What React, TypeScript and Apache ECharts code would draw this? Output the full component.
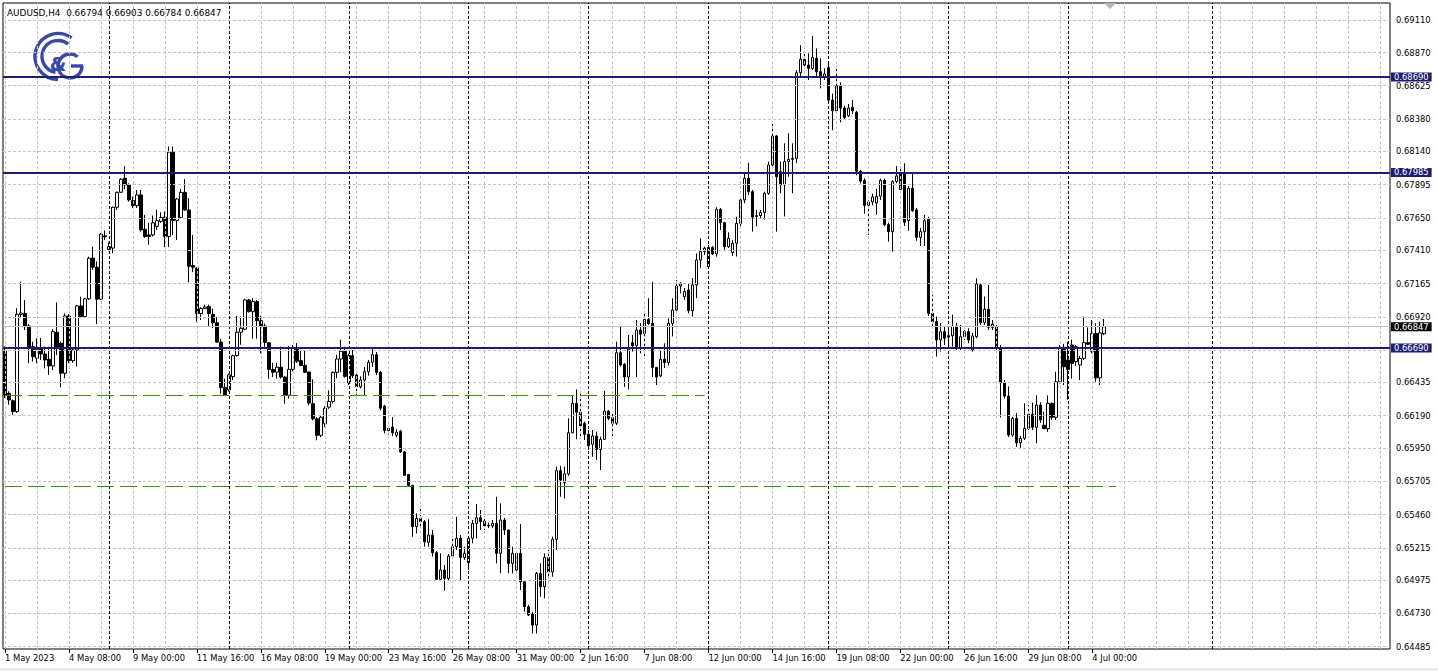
import React, { useEffect, useRef } from "react";
import * as echarts from "echarts";

const symbolName = "AUDUSD";
const timeframe = "H4";

// x-axis tick labels, one every 16 bars starting at the first visible bar
const xLabels = [
  "1 May 2023", "4 May 08:00", "9 May 00:00", "11 May 16:00", "16 May 08:00", "19 May 00:00",
  "23 May 16:00", "26 May 08:00", "31 May 00:00", "2 Jun 16:00", "7 Jun 08:00", "12 Jun 00:00",
  "14 Jun 16:00", "19 Jun 08:00", "22 Jun 00:00", "26 Jun 16:00", "29 Jun 08:00", "4 Jul 00:00",
];

// price scale tick labels
const yTickLabels = [
  "0.69110", "0.68870", "0.68625", "0.68380", "0.68140", "0.67895", "0.67650", "0.67410",
  "0.67165", "0.66920", "0.66675", "0.66435", "0.66190", "0.65950", "0.65705", "0.65460",
  "0.65215", "0.64975", "0.64730", "0.64485",
];
const hiddenTickLabel = "0.66675";

// horizontal levels
const navyLevels = [0.6869, 0.67985, 0.6669];
const currentPrice = 0.66847;
const greenLevels = [0.6634, 0.6567];
const greenEndBar = [175, 278];

// weekly separators (bar slots) and slot count of the visible window
const weekSeparators = [26, 56, 86, 116, 146, 176, 206, 236, 266, 302];
const totalSlots = 347;

// H4 candles, 1 May 2023 16:00 .. 4 Jul 2023 12:00
const opens = [
  0.66667,0.66355,0.66300,0.66220,0.66938,0.66945,0.66852,0.66699,0.66613,0.66680,
  0.66645,0.66606,0.66557,0.66806,0.66724,0.66503,0.66926,0.66596,0.66675,0.67000,
  0.66921,0.67052,0.67352,0.67286,0.67050,0.67517,0.67417,0.67427,0.67728,0.67839,
  0.67942,0.67893,0.67777,0.67740,0.67819,0.67566,0.67524,0.67524,0.67587,0.67624,
  0.67656,0.67512,0.68135,0.67631,0.67653,0.67838,0.67708,0.67298,0.67280,0.66943,
  0.66980,0.66997,0.66937,0.66876,0.66733,0.66397,0.66380,0.66478,0.66633,0.66806,
  0.66828,0.67044,0.66958,0.67032,0.66891,0.66852,0.66728,0.66531,0.66511,0.66548,
  0.66475,0.66340,0.66532,0.66690,0.66596,0.66561,0.66512,0.66278,0.66167,0.66045,
  0.66130,0.66253,0.66295,0.66510,0.66608,0.66665,0.66431,0.66633,0.66490,0.66404,
  0.66453,0.66514,0.66584,0.66640,0.66510,0.66260,0.66080,0.66106,0.66045,0.66075,
  0.65922,0.65755,0.65675,0.65371,0.65432,0.65408,0.65255,0.65309,0.65179,0.64982,
  0.65051,0.64989,0.65154,0.65223,0.65285,0.65144,0.65104,0.65285,0.65395,0.65437,
  0.65412,0.65381,0.65376,0.65395,0.65174,0.65420,0.65346,0.65100,0.65051,0.65174,
  0.64964,0.64780,0.64726,0.64645,0.65026,0.64928,0.65144,0.65037,0.65277,0.65784,
  0.65695,0.65760,0.66064,0.66281,0.66215,0.66133,0.66052,0.65978,0.66040,0.65941,
  0.66015,0.66224,0.66175,0.66134,0.66655,0.66569,0.66475,0.66729,0.66707,0.66822,
  0.66797,0.66900,0.66871,0.66546,0.66483,0.66606,0.66582,0.66871,0.66970,0.67147,
  0.67069,0.67117,0.66965,0.67155,0.67339,0.67401,0.67290,0.67432,0.67383,0.67713,
  0.67614,0.67437,0.67393,0.67462,0.67609,0.67782,0.67942,0.67843,0.67667,0.67667,
  0.67690,0.67831,0.68040,0.68254,0.67991,0.67893,0.68065,0.68089,0.68089,0.68721,
  0.68820,0.68778,0.68753,0.68827,0.68729,0.68692,0.68760,0.68519,0.68440,0.68625,
  0.68460,0.68403,0.68465,0.68428,0.67995,0.67926,0.67742,0.67767,0.67760,0.67809,
  0.67927,0.67600,0.67548,0.67917,0.67978,0.67978,0.67629,0.67868,0.67708,0.67506,
  0.67548,0.67640,0.66945,0.66884,0.66749,0.66810,0.66770,0.66780,0.66848,0.66687,
  0.66773,0.66810,0.66675,0.66773,0.67155,0.66876,0.66975,0.66842,0.66842,0.66687,
  0.66433,0.66335,0.66047,0.66170,0.65990,0.66023,0.66096,0.66201,0.66104,0.66268,
  0.66119,0.66094,0.66281,0.66178,0.66440,0.66694,0.66601,0.66712,0.66589,0.66564,
  0.66613,0.66729,0.66665,0.66796,0.66469,0.66794,
];
const highs = [
  0.66700,0.66370,0.66310,0.66983,0.67179,0.67044,0.66866,0.66736,0.66761,0.66763,
  0.66699,0.66699,0.66828,0.67025,0.66736,0.66945,0.66940,0.66690,0.67007,0.67069,
  0.67059,0.67364,0.67437,0.67329,0.67537,0.67557,0.67468,0.67733,0.67843,0.67942,
  0.68033,0.67905,0.67807,0.67856,0.67856,0.67672,0.67613,0.67667,0.67710,0.67690,
  0.67697,0.68177,0.68177,0.67796,0.67863,0.67937,0.67796,0.67524,0.67284,0.66992,
  0.67009,0.67009,0.66980,0.66917,0.66758,0.66463,0.66500,0.66640,0.66926,0.66921,
  0.67052,0.67052,0.67057,0.67044,0.66928,0.66870,0.66733,0.66580,0.66580,0.66699,
  0.66480,0.66704,0.66712,0.66726,0.66675,0.66670,0.66514,0.66458,0.66179,0.66192,
  0.66260,0.66376,0.66517,0.66640,0.66751,0.66699,0.66648,0.66675,0.66517,0.66480,
  0.66549,0.66601,0.66690,0.66660,0.66520,0.66270,0.66110,0.66180,0.66090,0.66085,
  0.65930,0.65760,0.65680,0.65469,0.65506,0.65420,0.65425,0.65346,0.65190,0.65174,
  0.65088,0.65169,0.65297,0.65444,0.65309,0.65223,0.65297,0.65420,0.65538,0.65494,
  0.65435,0.65400,0.65420,0.65592,0.65543,0.65435,0.65350,0.65223,0.65190,0.65390,
  0.64970,0.64793,0.64743,0.65037,0.65100,0.65174,0.65199,0.65297,0.65814,0.65819,
  0.65814,0.66170,0.66343,0.66384,0.66355,0.66146,0.66084,0.66084,0.66072,0.66035,
  0.66372,0.66231,0.66209,0.66736,0.66848,0.66579,0.66786,0.66786,0.66896,0.66872,
  0.66945,0.67057,0.67179,0.66550,0.66672,0.66724,0.66908,0.67057,0.67191,0.67176,
  0.67132,0.67169,0.67206,0.67388,0.67499,0.67437,0.67450,0.67442,0.67728,0.67723,
  0.67621,0.67543,0.67487,0.67658,0.67794,0.67979,0.68057,0.67856,0.67708,0.67708,
  0.67843,0.68065,0.68347,0.68262,0.68065,0.68200,0.68274,0.68200,0.68741,0.68925,
  0.68859,0.68864,0.68992,0.68901,0.68827,0.68753,0.68797,0.68567,0.68749,0.68650,
  0.68477,0.68490,0.68519,0.68440,0.68001,0.67941,0.67779,0.67829,0.67865,0.67939,
  0.67939,0.67614,0.67927,0.68033,0.68016,0.68053,0.67885,0.67978,0.67723,0.67575,
  0.67672,0.67658,0.67082,0.66921,0.66872,0.66852,0.66830,0.66935,0.66875,0.66860,
  0.66822,0.66835,0.66800,0.67204,0.67167,0.67069,0.67155,0.66896,0.66860,0.66712,
  0.66453,0.66406,0.66182,0.66209,0.66040,0.66281,0.66268,0.66287,0.66340,0.66290,
  0.66219,0.66340,0.66287,0.66514,0.66712,0.66720,0.66736,0.66751,0.66712,0.66631,
  0.66921,0.66840,0.66896,0.66872,0.66884,0.66903,
];
const lows = [
  0.66320,0.66270,0.66195,0.66210,0.66914,0.66822,0.66577,0.66589,0.66577,0.66601,
  0.66539,0.66490,0.66527,0.66638,0.66399,0.66466,0.66577,0.66579,0.66552,0.66911,
  0.66911,0.67044,0.67266,0.66867,0.67044,0.67487,0.67404,0.67388,0.67708,0.67834,
  0.67861,0.67770,0.67723,0.67723,0.67548,0.67502,0.67452,0.67512,0.67561,0.67613,
  0.67434,0.67434,0.67524,0.67487,0.67646,0.67703,0.67175,0.67250,0.66884,0.66896,
  0.66976,0.66848,0.66836,0.66728,0.66352,0.66335,0.66367,0.66453,0.66626,0.66713,
  0.66823,0.66950,0.66758,0.66758,0.66650,0.66699,0.66463,0.66475,0.66463,0.66463,
  0.66278,0.66315,0.66517,0.66579,0.66554,0.66505,0.66266,0.66155,0.66008,0.66032,
  0.66106,0.66240,0.66280,0.66466,0.66510,0.66471,0.66416,0.66468,0.66343,0.66390,
  0.66340,0.66485,0.66550,0.66490,0.66230,0.66060,0.66050,0.66040,0.66030,0.65915,
  0.65745,0.65666,0.65297,0.65321,0.65361,0.65223,0.65223,0.65149,0.64977,0.64977,
  0.64897,0.64972,0.65140,0.65199,0.64972,0.65125,0.65051,0.65248,0.65285,0.65346,
  0.65346,0.65360,0.65360,0.65100,0.65026,0.65309,0.65026,0.65026,0.65026,0.64903,
  0.64743,0.64712,0.64583,0.64583,0.64854,0.64842,0.65001,0.65001,0.65199,0.65592,
  0.65579,0.65745,0.66060,0.66016,0.66023,0.66010,0.65937,0.65887,0.65863,0.65789,
  0.66010,0.66158,0.66035,0.66121,0.66552,0.66402,0.66384,0.66662,0.66475,0.66650,
  0.66626,0.66860,0.66475,0.66416,0.66473,0.66542,0.66560,0.66775,0.66960,0.67093,
  0.67044,0.66945,0.66921,0.67057,0.67278,0.67376,0.67278,0.67376,0.67364,0.67560,
  0.67413,0.67428,0.67369,0.67364,0.67572,0.67757,0.67819,0.67548,0.67587,0.67648,
  0.67636,0.67819,0.68028,0.67548,0.67831,0.67660,0.67954,0.67831,0.68053,0.68692,
  0.68753,0.68667,0.68741,0.68692,0.68606,0.68667,0.68504,0.68297,0.68430,0.68355,
  0.68379,0.68394,0.68416,0.67964,0.67904,0.67680,0.67524,0.67742,0.67672,0.67782,
  0.67587,0.67474,0.67401,0.67905,0.67856,0.67590,0.67555,0.67693,0.67481,0.67442,
  0.67442,0.66926,0.66837,0.66626,0.66662,0.66712,0.66700,0.66699,0.66675,0.66675,
  0.66749,0.66724,0.66662,0.66761,0.66860,0.66860,0.66822,0.66822,0.66675,0.66177,
  0.66317,0.66032,0.66035,0.65960,0.65952,0.66010,0.66084,0.66084,0.65985,0.66136,
  0.66089,0.66070,0.66158,0.66158,0.66428,0.66416,0.66307,0.66463,0.66557,0.66453,
  0.66601,0.66712,0.66650,0.66441,0.66416,0.66784,
];
const closes = [
  0.66343,0.66306,0.66220,0.66938,0.66948,0.66847,0.66695,0.66625,0.66680,0.66645,
  0.66601,0.66557,0.66810,0.66687,0.66503,0.66926,0.66596,0.66675,0.67000,0.66921,
  0.67052,0.67352,0.67286,0.67050,0.67530,0.67510,0.67437,0.67728,0.67839,0.67935,
  0.67893,0.67782,0.67740,0.67819,0.67561,0.67512,0.67512,0.67613,0.67629,0.67653,
  0.67512,0.68135,0.67631,0.67789,0.67838,0.67708,0.67293,0.67286,0.66943,0.66980,
  0.66992,0.66943,0.66876,0.66733,0.66397,0.66340,0.66491,0.66633,0.66806,0.66835,
  0.67044,0.66958,0.67032,0.66891,0.66847,0.66731,0.66531,0.66511,0.66548,0.66475,
  0.66340,0.66532,0.66690,0.66591,0.66561,0.66510,0.66283,0.66167,0.66045,0.66179,
  0.66245,0.66295,0.66510,0.66608,0.66665,0.66480,0.66633,0.66485,0.66404,0.66453,
  0.66514,0.66584,0.66640,0.66510,0.66245,0.66080,0.66097,0.66064,0.66068,0.65922,
  0.65750,0.65675,0.65371,0.65432,0.65408,0.65260,0.65309,0.65179,0.64982,0.65051,
  0.64989,0.65154,0.65223,0.65285,0.65144,0.65174,0.65285,0.65395,0.65437,0.65408,
  0.65376,0.65376,0.65395,0.65174,0.65420,0.65346,0.65100,0.65174,0.65174,0.64964,
  0.64780,0.64719,0.64645,0.65026,0.64928,0.65144,0.65037,0.65277,0.65784,0.65715,
  0.65760,0.66064,0.66281,0.66215,0.66116,0.66052,0.65968,0.66040,0.65941,0.66015,
  0.66224,0.66170,0.66134,0.66655,0.66564,0.66475,0.66680,0.66707,0.66822,0.66792,
  0.66900,0.66871,0.66546,0.66475,0.66606,0.66582,0.66871,0.66970,0.67147,0.67162,
  0.67106,0.66965,0.67155,0.67339,0.67401,0.67426,0.67432,0.67383,0.67713,0.67614,
  0.67437,0.67499,0.67462,0.67609,0.67782,0.67942,0.67843,0.67655,0.67660,0.67690,
  0.67831,0.68040,0.68254,0.67954,0.67893,0.68065,0.68082,0.68082,0.68721,0.68820,
  0.68778,0.68753,0.68835,0.68729,0.68692,0.68712,0.68519,0.68440,0.68625,0.68460,
  0.68391,0.68460,0.68440,0.67995,0.67921,0.67742,0.67767,0.67804,0.67809,0.67927,
  0.67600,0.67548,0.67917,0.67959,0.67860,0.67617,0.67868,0.67703,0.67506,0.67548,
  0.67629,0.66945,0.66884,0.66749,0.66810,0.66761,0.66780,0.66848,0.66687,0.66773,
  0.66810,0.66749,0.66778,0.67162,0.66876,0.66975,0.66842,0.66866,0.66687,0.66433,
  0.66335,0.66047,0.66170,0.65990,0.66023,0.66096,0.66201,0.66104,0.66268,0.66158,
  0.66094,0.66281,0.66178,0.66440,0.66694,0.66551,0.66530,0.66576,0.66699,0.66613,
  0.66729,0.66717,0.66796,0.66469,0.66801,0.66847,
];

const FONT = "'DejaVu Sans', sans-serif";
const FS = 8.4;
const NAVY = "#1b1f6e";
const GREEN = "#3f8e14";
const GRIDC = "#c4c4c4";
const LOGO = "#3b49a6";

function lineLayer(z: number, markLine: any) {
  return {
    type: "line",
    data: [],
    z,
    silent: true,
    markLine: {
      silent: true,
      precision: 6,
      symbol: ["none", "none"],
      animation: false,
      emphasis: { disabled: true },
      ...markLine,
    },
  };
}

export default function App() {
  const ref = useRef<HTMLDivElement>(null);

  useEffect(() => {
    if (!ref.current) return;
    const chart = echarts.init(ref.current, undefined, { renderer: "svg" });

    const categories = Array.from({ length: totalSlots }, (_, i) => String(i));
    const candles = opens.map((o, i) => [o, closes[i], lows[i], highs[i]]);
    const last = opens.length - 1;
    const title = `${symbolName},${timeframe}  ${opens[last].toFixed(5)} ${highs[last].toFixed(5)} ${lows[last].toFixed(5)} ${closes[last].toFixed(5)}`;

    const labelIdx = (i: number) => i % 16 === 0 && i / 16 < xLabels.length;

    const hGrid = yTickLabels.map((t) => ({
      yAxis: Number(t),
      label: t === hiddenTickLabel ? { show: false } : { show: true, formatter: () => t },
    }));
    const vGrid = categories.map((_, i) => i).filter((i) => i % 8 === 0).map((i) => ({ xAxis: i }));
    const seps = weekSeparators.map((i) => ({ xAxis: i }));

    const option: any = {
      animation: false,
      backgroundColor: "#ffffff",
      textStyle: { fontFamily: FONT },
      grid: {
        left: 3, top: 3, right: 48, bottom: 22,
        show: true, borderColor: "#000", borderWidth: 1, backgroundColor: "transparent",
      },
      xAxis: {
        type: "category",
        data: categories,
        boundaryGap: true,
        axisLine: { show: false },
        axisTick: {
          show: true, interval: labelIdx, alignWithLabel: true, length: 4,
          lineStyle: { color: "#000", width: 1 },
        },
        axisLabel: {
          interval: labelIdx,
          formatter: (_v: string, i: number) => xLabels[i / 16] ?? "",
          align: "left", margin: 5, fontSize: FS, fontFamily: FONT, color: "#000",
        },
        splitLine: { show: false },
      },
      yAxis: {
        type: "value",
        position: "right",
        min: 0.64468,
        max: 0.692355,
        show: false,
        splitLine: { show: false },
      },
      graphic: [
        {
          type: "text",
          x: 7, y: 13,
          style: { text: title, fontSize: 8.9, fontFamily: FONT, fill: "#000", verticalAlign: "middle" },
          z: 100,
        },
        {
          type: "group",
          z: 100,
          children: [
            { type: "arc", shape: { cx: 58, cy: 56.5, r: 23, startAngle: Math.PI * 0.5, endAngle: Math.PI * 1.7, clockwise: true }, style: { stroke: LOGO, lineWidth: 3.4, fill: "none" } },
            { type: "arc", shape: { cx: 58, cy: 56.5, r: 16, startAngle: Math.PI * 0.55, endAngle: Math.PI * 1.72, clockwise: true }, style: { stroke: LOGO, lineWidth: 3.4, fill: "none" } },
            { type: "arc", shape: { cx: 70, cy: 66, r: 12, startAngle: 0, endAngle: Math.PI * 1.72, clockwise: true }, style: { stroke: LOGO, lineWidth: 3.4, fill: "none" } },
            { type: "line", shape: { x1: 71, y1: 66, x2: 83, y2: 66 }, style: { stroke: LOGO, lineWidth: 3.4 } },
            { type: "text", x: 58, y: 64, style: { text: "&", fontSize: 19, fontWeight: "bold", fontFamily: FONT, fill: LOGO, align: "center", verticalAlign: "middle" } },
          ],
        },
        {
          type: "polygon",
          shape: { points: [[1104, 3], [1116, 3], [1110, 9]] },
          style: { fill: "#b4b4b4" },
          z: 100,
        },
        {
          type: "rect",
          shape: { x: 0, y: 668, width: 1438, height: 3 },
          style: { fill: "#ededed" },
          z: 100,
        },
      ],
      series: [
        lineLayer(1, {
          lineStyle: { color: GRIDC, type: [3, 2], width: 1 },
          label: { show: true, position: "end", distance: 6, color: "#000", fontSize: FS, fontFamily: FONT },
          data: hGrid,
        }),
        lineLayer(1, {
          lineStyle: { color: GRIDC, type: [3, 2], width: 1 },
          label: { show: false },
          data: vGrid,
        }),
        lineLayer(1, {
          lineStyle: { color: "#000", type: [3, 2], width: 1 },
          label: { show: false },
          data: seps,
        }),
        lineLayer(1, {
          lineStyle: { color: "#c0c0c0", type: "solid", width: 1 },
          label: {
            show: true, position: "end", distance: 1, color: "#fff", backgroundColor: "#000",
            padding: [1, 3, 0, 3], fontSize: FS, fontFamily: FONT,
            formatter: () => currentPrice.toFixed(5),
          },
          data: [{ yAxis: currentPrice }],
        }),
        {
          type: "candlestick",
          data: candles,
          barWidth: 3,
          z: 2,
          silent: true,
          itemStyle: {
            color: "#ffffff",
            color0: "#000000",
            borderColor: "#000000",
            borderColor0: "#000000",
            borderColorDoji: "#000000",
            borderWidth: 1,
          },
        },
        lineLayer(3, {
          lineStyle: { color: GREEN, type: [17, 6], width: 1 },
          label: { show: false },
          data: greenLevels.map((v, k) => [{ coord: [0, v] }, { coord: [greenEndBar[k], v] }]),
        }),
        lineLayer(4, {
          lineStyle: { color: NAVY, type: "solid", width: 2 },
          label: {
            show: true, position: "end", distance: 1, color: "#fff", backgroundColor: NAVY,
            padding: [1, 3, 0, 3], fontSize: FS, fontFamily: FONT,
          },
          data: navyLevels.map((v) => ({ yAxis: v, label: { formatter: () => v.toFixed(5) } })),
        }),
      ],
    };

    chart.setOption(option);
    return () => chart.dispose();
  }, []);

  return (
    <div
      ref={ref}
      style={{ position: "absolute", left: 0, top: 0, width: 1438, height: 671, background: "#fff" }}
    />
  );
}
